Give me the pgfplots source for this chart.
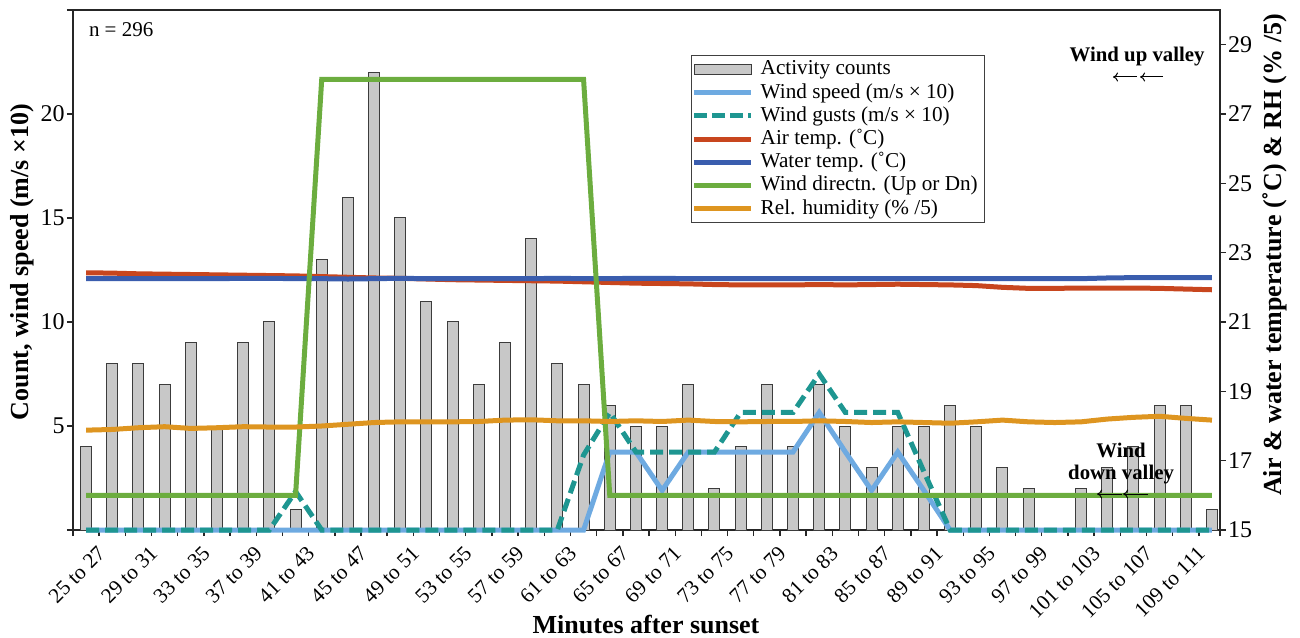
\documentclass[border=0pt]{standalone}
\usepackage{fontspec}
\setmainfont{Liberation Serif}
\usepackage{pgfplots}
\usepackage{pgfplotstable}
\pgfplotsset{compat=1.18}
\usetikzlibrary{arrows.meta}

\definecolor{barfill}{HTML}{C8C8C8}
\definecolor{baredge}{HTML}{3C3C3C}
\definecolor{cspeed}{HTML}{6EAAE1}
\definecolor{cgust}{HTML}{1E9691}
\definecolor{cair}{HTML}{C8461E}
\definecolor{cwater}{HTML}{3A5DAE}
\definecolor{cdir}{HTML}{6CAD3F}
\definecolor{crh}{HTML}{DE9520}

\pgfplotstableread{
i count speed gust air water dir rh
0 4 0 0 22.42 22.25 16 17.88
1 8 0 0 22.41 22.25 16 17.90
2 8 0 0 22.39 22.25 16 17.95
3 7 0 0 22.38 22.25 16 17.98
4 9 0 0 22.37 22.25 16 17.93
5 5 0 0 22.36 22.25 16 17.95
6 9 0 0 22.35 22.26 16 17.98
7 10 0 0 22.34 22.26 16 17.97
8 1 0 1.85 22.33 22.25 16 17.97
9 13 0 0 22.31 22.25 28 18.00
10 16 0 0 22.29 22.24 28 18.05
11 22 0 0 22.27 22.25 28 18.10
12 15 0 0 22.26 22.26 28 18.12
13 11 0 0 22.24 22.25 28 18.12
14 10 0 0 22.22 22.25 28 18.12
15 7 0 0 22.21 22.25 28 18.13
16 9 0 0 22.20 22.25 28 18.17
17 14 0 0 22.19 22.25 28 18.18
18 8 0 0 22.18 22.26 28 18.15
19 7 0 3.6 22.16 22.25 28 18.15
20 6 3.75 5.65 22.14 22.25 16 18.13
21 5 3.75 3.75 22.12 22.26 16 18.15
22 5 1.9 3.75 22.11 22.26 16 18.13
23 7 3.75 3.75 22.10 22.25 16 18.17
24 2 3.75 3.75 22.08 22.25 16 18.13
25 4 3.75 5.65 22.07 22.25 16 18.12
26 7 3.75 5.65 22.07 22.25 16 18.13
27 4 3.75 5.65 22.07 22.25 16 18.13
28 7 5.65 7.5 22.08 22.25 16 18.15
29 5 3.75 5.65 22.07 22.25 16 18.13
30 3 1.9 5.65 22.08 22.25 16 18.10
31 5 3.75 5.65 22.09 22.25 16 18.12
32 5 1.9 2.8 22.08 22.25 16 18.10
33 6 0 0 22.07 22.25 16 18.08
34 5 0 0 22.05 22.25 16 18.12
35 3 0 0 22.00 22.25 16 18.17
36 2 0 0 21.97 22.25 16 18.12
37 0 0 0 21.97 22.25 16 18.10
38 2 0 0 21.98 22.25 16 18.12
39 3 0 0 21.98 22.27 16 18.20
40 4 0 0 21.98 22.28 16 18.25
41 6 0 0 21.97 22.28 16 18.28
42 6 0 0 21.95 22.28 16 18.22
43 1 0 0 21.93 22.28 16 18.17
}\datatable

\pgfplotsset{
  common/.style={
    scale only axis, width=573.4pt, height=260pt,
    xmin=-0.5, xmax=43.3, clip=false,
    tick align=outside, major tick length=3pt,
    axis line style={line width=0.7pt, black!85},
    every tick/.style={line width=0.7pt, black!85},
    tick label style={font=\fontsize{12}{14}\selectfont},
    /pgf/number format/assume math mode=true,
  },
  linelegend/.style={legend image code/.code={\draw[##1] (0pt,0pt) -- (28.5pt,0pt);}},
  barlegend/.style={legend image code/.code={\draw[##1] (0pt,-2.5pt) rectangle (28.5pt,2.5pt);}},
}

\begin{document}
\begin{tikzpicture}
\useasboundingbox (-36.5pt,-53.5pt) rectangle (613.5pt,265pt);

\begin{axis}[common,
  ymin=0, ymax=25,
  xtick={-0.5,0.5,...,42.5},
  xticklabels={{},{25 to 27},{},{29 to 31},{},{33 to 35},{},{37 to 39},{},{41 to 43},{},{45 to 47},{},{49 to 51},{},{53 to 55},{},{57 to 59},{},{61 to 63},{},{65 to 67},{},{69 to 71},{},{73 to 75},{},{77 to 79},{},{81 to 83},{},{85 to 87},{},{89 to 91},{},{93 to 95},{},{97 to 99},{},{101 to 103},{},{105 to 107},{},{109 to 111}},
  extra x ticks={43.3}, extra x tick labels={},
  xtick pos=bottom,
  xticklabel style={rotate=45, anchor=north east, inner sep=1pt, xshift=-3pt, yshift=-1pt, font=\fontsize{10.6}{12}\selectfont},
  ytick={0,5,10,15,20,25}, yticklabels={{},5,10,15,20,{}},
  ytick pos=left,
  yticklabel style={inner sep=1pt},
]
\addplot[ybar, bar width=5.5pt, fill=barfill, draw=baredge, line width=0.5pt] table[x=i, y=count] {\datatable};
\addplot[cspeed, line width=2.5pt] table[x=i, y=speed] {\datatable};
\addplot[cgust, line width=2.5pt, dash pattern=on 6.5pt off 3pt] table[x=i, y=gust] {\datatable};
\end{axis}

\begin{axis}[common,
  ymin=15, ymax=30,
  axis x line=none, axis y line*=right,
  ytick={15,17,...,29},
  yticklabel style={inner sep=1pt},
  legend cell align=left,
  legend style={at={(axis description cs:0.539,0.913)}, anchor=north west,
    draw=black!75, line width=0.6pt, fill=white,
    font=\fontsize{10.6}{11.5}\selectfont,
    inner xsep=0pt, inner ysep=1pt,
    nodes={inner xsep=3.5pt, inner ysep=0.5pt, text height=8pt, text depth=2.6pt}},
]
\addlegendimage{barlegend, fill=barfill, draw=baredge, line width=0.5pt}
\addlegendentry{Activity counts}
\addlegendimage{linelegend, cspeed, line width=2.5pt}
\addlegendentry{Wind speed (m/s × 10)}
\addlegendimage{linelegend, cgust, line width=2.5pt, dash pattern=on 6.5pt off 2.5pt}
\addlegendentry{Wind gusts (m/s × 10)}
\addplot[linelegend, cair, line width=2.5pt] table[x=i, y=air] {\datatable};
\addlegendentry{Air temp. (˚C)}
\addplot[linelegend, cwater, line width=2.5pt] table[x=i, y=water] {\datatable};
\addlegendentry{Water temp. (˚C)}
\addplot[linelegend, cdir, line width=2.5pt] table[x=i, y=dir] {\datatable};
\addlegendentry{Wind directn. (Up or Dn)}
\addplot[linelegend, crh, line width=2.5pt] table[x=i, y=rh] {\datatable};
\addlegendentry{Rel. humidity (\% /5)}

\node[font=\fontsize{13}{15}\selectfont\bfseries] at (axis description cs:0.4997,-0.181) {Minutes after sunset};
\node[rotate=90, font=\fontsize{13}{15}\selectfont\bfseries] at (axis description cs:-0.0445,0.515) {Count, wind speed (m/s ×10)};
\node[rotate=90, font=\fontsize{13}{15}\selectfont\bfseries] at (axis description cs:1.0482,0.529) {Air \& water temperature (˚C) \& RH (\% /5)};
\node[anchor=west, font=\fontsize{10.5}{12}\selectfont] at (axis description cs:0.0078,0.9615) {n = 296};
\node[font=\fontsize{10.4}{12}\selectfont\bfseries] at (axis description cs:0.9279,0.9096) {Wind up valley};
\draw[-{To[length=2.5pt,width=4.5pt]}, line width=0.5pt] (axis description cs:0.9279,0.8712) -- (axis description cs:0.9069,0.8712);
\draw[-{To[length=2.5pt,width=4.5pt]}, line width=0.5pt] (axis description cs:0.9506,0.8712) -- (axis description cs:0.9305,0.8712);
\node[align=center, font=\fontsize{10.4}{11}\selectfont\bfseries] at (axis description cs:0.9139,0.1269) {Wind\\down valley};
\draw[-{To[length=2.5pt,width=4.5pt]}, line width=0.5pt] (axis description cs:0.9148,0.0692) -- (axis description cs:0.8930,0.0692);
\draw[-{To[length=2.5pt,width=4.5pt]}, line width=0.5pt] (axis description cs:0.9375,0.0692) -- (axis description cs:0.9157,0.0692);
\end{axis}
\end{tikzpicture}
\end{document}
